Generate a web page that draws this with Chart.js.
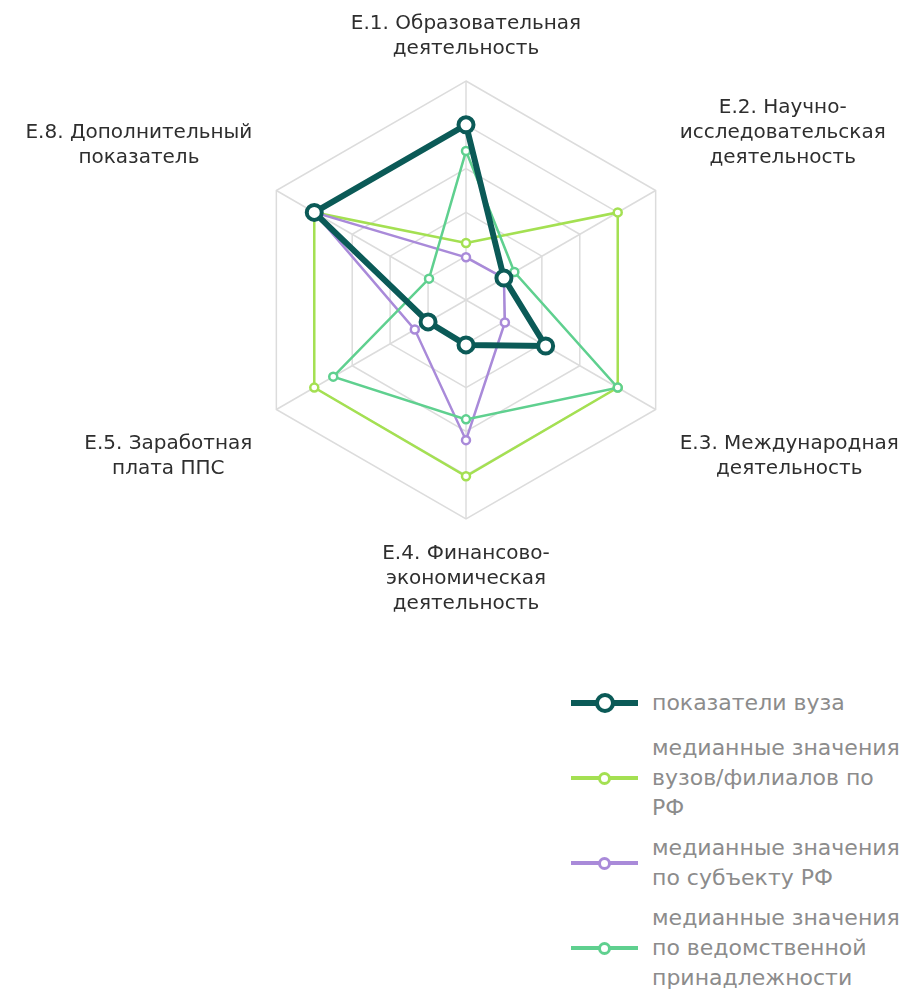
<html>
    <head>
        <meta charset="utf-8">
        <script src="https://cdn.jsdelivr.net/npm/chart.js@4.4.0/dist/chart.umd.min.js"></script>
        <style>
            body { margin: 0; background: #fff; }
            #wrap { position: relative; width: 911px; height: 995px; }
            #legend { position: absolute; left: 571px; top: 688px; font-family: "DejaVu Sans", sans-serif; font-size: 22px; line-height: 30px; color: #8c8c8c; }
            .item { display: flex; align-items: center; margin-bottom: 10px; }
            .item:first-child { margin-bottom: 15px; }
            .sym { position: relative; width: 67px; height: 22px; margin-right: 14px; flex: none; }
            .sym .ln { position: absolute; left: 0; right: 0; top: 50%; }
            .sym .dot { position: absolute; left: 50%; top: 50%; border-radius: 50%; background: #fff; box-sizing: border-box; }
        </style>
    </head>
    <body>
        <div id="wrap">
            <canvas id="radar" width="911" height="640"></canvas>
            <div id="legend"></div>
        </div>
        <script>
            // axis labels, one array of lines per axis
            const AXES = [
                ["Е.1. Образовательная", "деятельность"],
                ["Е.2. Научно-", "исследовательская", "деятельность"],
                ["Е.3. Международная", "деятельность"],
                ["Е.4. Финансово-", "экономическая", "деятельность"],
                ["Е.5. Заработная", "плата ППС"],
                ["Е.8. Дополнительный", "показатель"]
            ];

            const SERIES_NAMES = [
                ["показатели вуза"],
                ["медианные значения", "вузов/филиалов по", "РФ"],
                ["медианные значения", "по субъекту РФ"],
                ["медианные значения", "по ведомственной", "принадлежности"]
            ];

            // values, 0..100
            const UNIVERSITY = [80, 20, 42, 20.5, 20, 80];
            const MEDIAN_RF = [26, 80, 80, 80.5, 80, 80];
            const MEDIAN_REGION = [19.5, 20, 20.5, 64, 27, 80];
            const MEDIAN_DEPT = [68, 25.5, 80, 54.5, 70, 19.5];

            const COLOURS = ["#0b5a57", "#a4e052", "#a98ad9", "#5fd08f"];

            function ds(name, data, colour, thick, order) {
                return {
                    label: name.join(" "),
                    data: data,
                    order: order,
                    fill: false,
                    borderColor: colour,
                    backgroundColor: colour,
                    borderWidth: thick ? 6 : 2.5,
                    pointRadius: thick ? 7.5 : 4,
                    pointHoverRadius: thick ? 7.5 : 4,
                    pointBorderWidth: thick ? 4 : 2.5,
                    pointBackgroundColor: "#fff",
                    pointBorderColor: colour
                };
            }

            // draw the axis labels centred line by line, anchored outside each vertex
            const axisLabels = {
                id: "axisLabels",
                afterDraw(chart) {
                    const scale = chart.scales.r;
                    const ctx = chart.ctx;
                    const lh = 25;
                    ctx.save();
                    ctx.font = "20px 'DejaVu Sans', sans-serif";
                    ctx.fillStyle = "#2e2e2e";
                    ctx.textAlign = "center";
                    ctx.textBaseline = "middle";
                    AXES.forEach((lines, i) => {
                        const p = scale.getPointPosition(i, scale.drawingArea);
                        const dx = p.x - scale.xCenter, dy = p.y - scale.yCenter;
                        const sx = Math.abs(dx) < 1 ? 0 : Math.sign(dx);
                        const sy = Math.sign(dy);
                        const ax = p.x + sx * 24, ay = p.y + sy * 21;
                        const w = Math.max(...lines.map(t => ctx.measureText(t).width));
                        const h = lines.length * lh;
                        const cx = sx > 0 ? ax + w / 2 : (sx < 0 ? ax - w / 2 : ax);
                        const top = sy < 0 ? ay - h : ay;
                        lines.forEach((t, j) => ctx.fillText(t, cx, top + lh * (j + 0.5) + 1));
                    });
                    ctx.restore();
                }
            };

            const chart = new Chart(document.getElementById("radar"), {
                type: "radar",
                data: {
                    labels: AXES.map(a => a.join(" ")),
                    datasets: [
                        ds(SERIES_NAMES[0], UNIVERSITY, COLOURS[0], true, 0),
                        ds(SERIES_NAMES[1], MEDIAN_RF, COLOURS[1], false, 3),
                        ds(SERIES_NAMES[2], MEDIAN_REGION, COLOURS[2], false, 2),
                        ds(SERIES_NAMES[3], MEDIAN_DEPT, COLOURS[3], false, 1)
                    ]
                },
                options: {
                    responsive: false,
                    animation: false,
                    layout: { padding: { left: 247, right: 226, top: 81, bottom: 121 } },
                    elements: { line: { tension: 0 } },
                    plugins: { legend: { display: false }, tooltip: { enabled: false } },
                    scales: {
                        r: {
                            min: 0,
                            max: 100,
                            ticks: { display: false, stepSize: 20 },
                            pointLabels: { display: false },
                            grid: { color: "#dcdcdc", lineWidth: 1.5 },
                            angleLines: { color: "#dcdcdc", lineWidth: 1.5 }
                        }
                    }
                },
                plugins: [axisLabels]
            });

            // html legend with multi-line names
            const legend = document.getElementById("legend");
            SERIES_NAMES.forEach((name, i) => {
                const thick = i == 0;
                const item = document.createElement("div");
                item.className = "item";
                const r = thick ? 20 : 13;
                item.innerHTML =
                    '<div class="sym"><div class="ln" style="height:' + (thick ? 6 : 4) + 'px;margin-top:' + (thick ? -3 : -2) + 'px;background:' + COLOURS[i] + '"></div>' +
                    '<div class="dot" style="width:' + r + 'px;height:' + r + 'px;margin:' + (-r / 2) + 'px 0 0 ' + (-r / 2) + 'px;border:' + (thick ? 4.5 : 3) + 'px solid ' + COLOURS[i] + '"></div></div>' +
                    '<div>' + name.join("<br>") + '</div>';
                legend.appendChild(item);
            });
        </script>
    </body>
</html>
